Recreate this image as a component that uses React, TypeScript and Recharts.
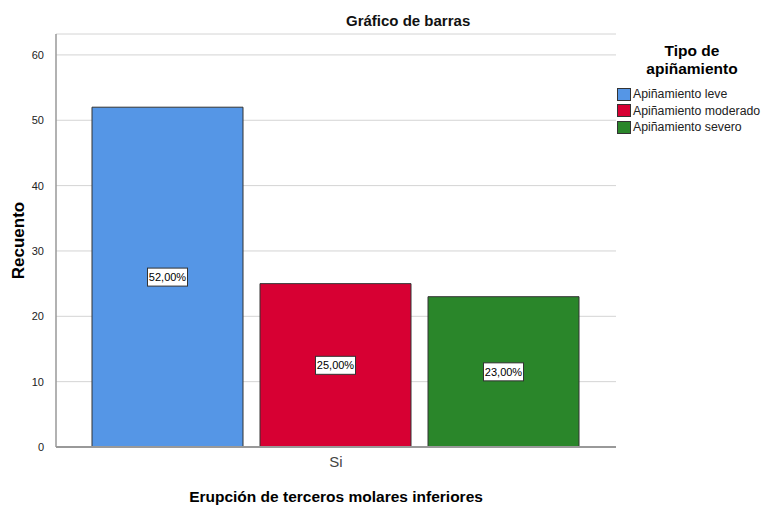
import React from "react";
import { BarChart, Bar, XAxis, YAxis, CartesianGrid, Label, LabelList } from "recharts";

const categories = ["Si"];
const seriesNames = ["Apiñamiento leve", "Apiñamiento moderado", "Apiñamiento severo"];
const leveValues = [52];
const moderadoValues = [25];
const severoValues = [23];
const percentLabels = ["52,00%", "25,00%", "23,00%"];
const yTicks = [0, 10, 20, 30, 40, 50, 60];
const colors = ["#5596E6", "#D70033", "#2A862A"];

const data = categories.map((c, i) => ({
  name: c,
  leve: leveValues[i],
  moderado: moderadoValues[i],
  severo: severoValues[i],
}));

const keys = ["leve", "moderado", "severo"];
const FONT = "'Liberation Sans', Arial, sans-serif";

const makeLabel = (text: string) => (props: any) => {
  const { x, y, width, height } = props;
  const cx = x + width / 2;
  const cy = y + height / 2;
  const w = 40;
  const h = 18;
  return (
    <g>
      <rect x={cx - w / 2} y={cy - h / 2} width={w} height={h} fill="#fff" stroke="#333" strokeWidth={1} />
      <text x={cx} y={cy + 4} textAnchor="middle" fontSize={11} fontFamily={FONT} fill="#000">
        {text}
      </text>
    </g>
  );
};

const LegendBox = () => (
  <div style={{ position: "absolute", left: 617, top: 42, width: 150, fontFamily: FONT }}>
    <div style={{ fontWeight: "bold", fontSize: 15.5, textAlign: "center", lineHeight: "18px", color: "#000", width: 150 }}>
      Tipo de
      <br />
      apiñamiento
    </div>
    <div style={{ marginTop: 8 }}>
      {seriesNames.map((n, i) => (
        <div key={n} style={{ display: "flex", alignItems: "center", height: 16.5 }}>
          <div style={{ width: 12, height: 11, background: colors[i], border: "1px solid #333", marginRight: 2 }} />
          <span style={{ fontSize: 12.3, color: "#222" }}>{n}</span>
        </div>
      ))}
    </div>
  </div>
);

export default function App() {
  return (
    <div style={{ position: "fixed", left: 0, top: 0, width: 765, height: 506, background: "#fff" }}>
      <div
        style={{
          position: "absolute",
          left: 346,
          top: 13,
          whiteSpace: "nowrap",
          fontFamily: FONT,
          fontWeight: "bold",
          fontSize: 15,
          lineHeight: "15px",
          color: "#111",
        }}
      >
        Gráfico de barras
      </div>
      <LegendBox />
      <BarChart
        width={765}
        height={506}
        data={data}
        margin={{ top: 34, right: 149, left: 0, bottom: 0 }}
        barCategoryGap={36}
        barGap={17}
      >
        <CartesianGrid vertical={false} stroke="#d4d4d4" />
        <XAxis
          dataKey="name"
          height={59}
          tickLine={false}
          axisLine={{ stroke: "#999", strokeWidth: 2 }}
          tick={{ fontSize: 15, fill: "#444", fontFamily: FONT }}
          tickMargin={3}
        >
          <Label
            value="Erupción de terceros molares inferiores"
            position="insideBottom"
            offset={4}
            style={{ fontSize: 15.5, fontWeight: "bold", fill: "#000", fontFamily: FONT }}
          />
        </XAxis>
        <YAxis
          width={56}
          domain={[0, 63.2]}
          ticks={yTicks}
          tickLine={false}
          axisLine={{ stroke: "#999", strokeWidth: 1.5 }}
          tick={{ fontSize: 11, fill: "#222", fontFamily: FONT }}
          tickMargin={6}
        >
          <Label
            value="Recuento"
            angle={-90}
            position="insideLeft"
            offset={18}
            style={{ fontSize: 17, fontWeight: "bold", fill: "#000", fontFamily: FONT, textAnchor: "middle" }}
          />
        </YAxis>
        {keys.map((k, i) => (
          <Bar key={k} dataKey={k} name={seriesNames[i]} fill={colors[i]} stroke="#333" strokeWidth={1} isAnimationActive={false}>
            <LabelList dataKey={k} content={makeLabel(percentLabels[i])} />
          </Bar>
        ))}
      </BarChart>
    </div>
  );
}
